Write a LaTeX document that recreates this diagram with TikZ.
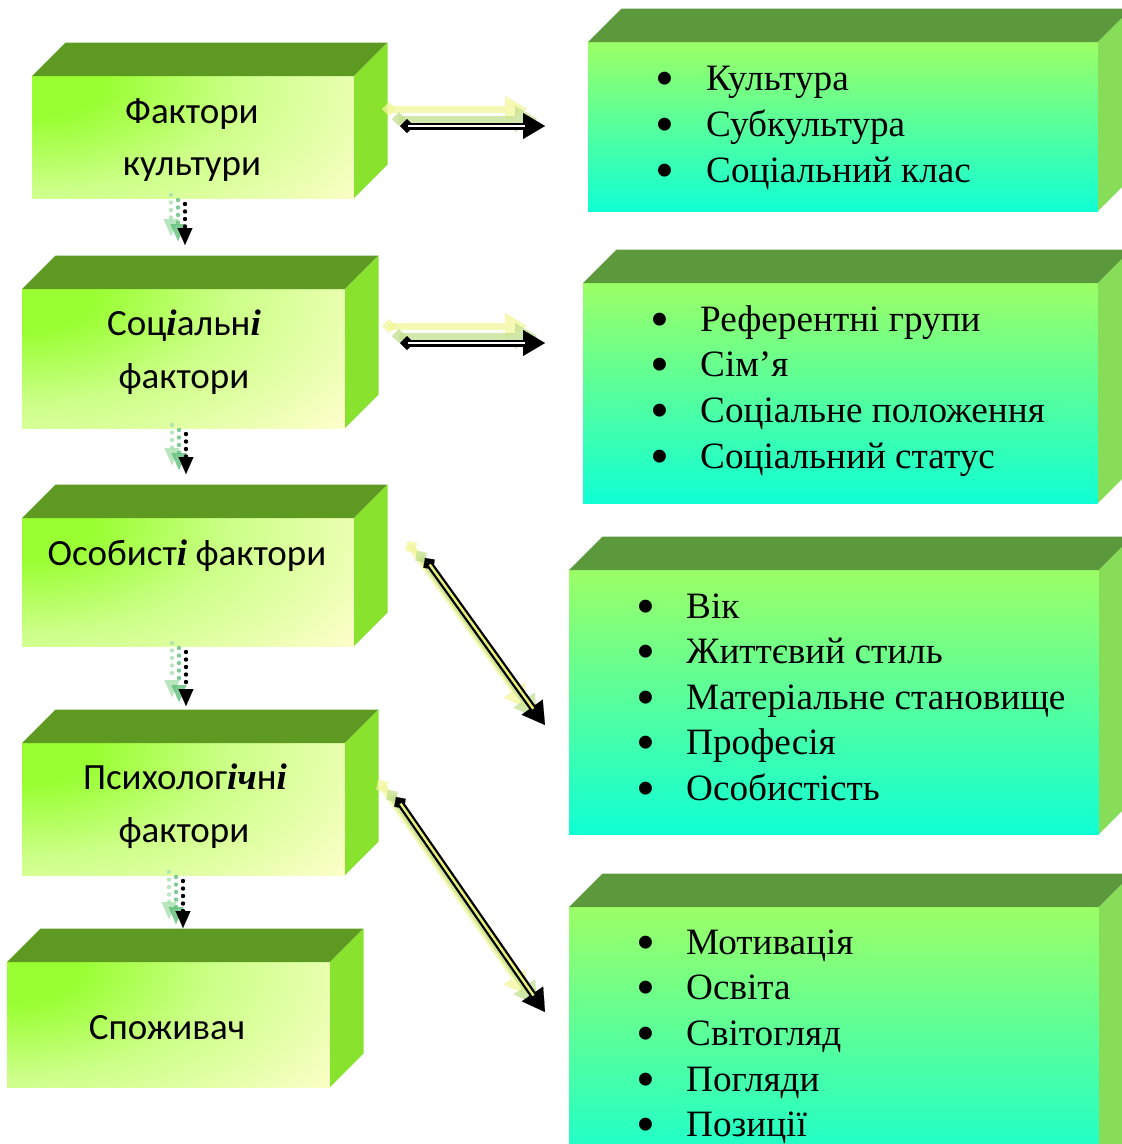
\documentclass[tikz,border=0pt]{standalone}
\usepackage{fontspec}
\setmainfont{Liberation Serif}
\newfontfamily\boxfont{Carlito}
\usetikzlibrary{arrows.meta,calc}

\definecolor{topL}{HTML}{5E9A22}
\definecolor{sideL}{HTML}{88E22E}
\definecolor{glowA}{HTML}{99FF33}
\definecolor{glowM}{HTML}{CCFF88}
\definecolor{glowB}{HTML}{FFFFCC}
\definecolor{topR}{HTML}{5C983C}
\definecolor{sideR}{HTML}{88DD58}
\definecolor{faceTop}{HTML}{9CFF66}
\definecolor{faceMid}{HTML}{72FF96}
\definecolor{faceBot}{HTML}{10FFD4}
\definecolor{paleY}{HTML}{F2F79A}
\definecolor{paleG}{HTML}{C4E090}
\definecolor{dotG1}{HTML}{A8E0B0}
\definecolor{dotG2}{HTML}{5FBF7A}
\definecolor{innerY}{HTML}{E4EE78}

\pgfdeclareradialshading{cornerglow}{\pgfpoint{0bp}{0bp}}{color(0bp)=(glowA); color(3bp)=(glowA); color(9bp)=(glowM); color(18bp)=(glowB); color(50bp)=(glowB)}

\newcommand\serbi[1]{{\rmfamily\bfseries\itshape #1}}
\newcommand\bul{\smash{\raisebox{-6pt}{\fontsize{54}{54}\selectfont •}}}

% top and right faces of a 3D block whose front face is node #1
\newcommand\blocksides[4]{%
  \fill[#2] (#1.north west) -- ++(#4,-#4) -- ($(#1.north east)+(#4,-#4)$) -- (#1.north east) -- cycle;
  \fill[#3] (#1.north east) -- ++(#4,-#4) -- ($(#1.south east)+(#4,-#4)$) -- (#1.south east) -- cycle;}

% double-outlined arrow with two pale echoes
\newcommand\echoarrow[3]{%
  \draw[echo, paleY, opacity=.75] ($(#1)+(-18,-17)$) -- ($(#2)+(-18,-17)$);
  \draw[echo, paleG, opacity=.75] ($(#1)+(-8,-7)$) -- ($(#2)+(-8,-7)$);
  \draw[mainarrow] (#1) -- (#2);
  \draw[line width=2.4pt, #3, shorten <=8pt, shorten >=20pt] (#1) -- (#2);}

% dotted arrow with two green echoes
\newcommand\dotarrow[2]{%
  \draw[dotted arrow, dotG1, opacity=.8] ($(#1)+(-14,-9)$) -- ($(#2)+(-14,-9)$);
  \draw[dotted arrow, dotG2, opacity=.8] ($(#1)+(-7,-4)$) -- ($(#2)+(-7,-4)$);
  \draw[dotted arrow, black] (#1) -- (#2);}

\tikzset{
  leftface/.style={inner sep=0pt, outer sep=0pt,
    path picture={\shade[shading=cornerglow] ($(path picture bounding box.north west)+(6pt,-6pt)$) ellipse [x radius=560pt, y radius=300pt];}},
  rightface/.style={inner sep=0pt, outer sep=0pt, top color=faceTop, middle color=faceMid, bottom color=faceBot},
  ltext/.style={font=\boxfont\fontsize{37}{44}\selectfont, inner sep=0pt, anchor=base},
  litem/.style={font=\fontsize{37.2}{45}\selectfont, inner sep=0pt, anchor=base west},
  echo/.style={line width=7pt, arrows={Diamond[length=14pt,width=14pt,line width=0.1pt]-Triangle[length=22pt,width=26pt,line width=0.1pt]}},
  mainarrow/.style={echo, black},
  dotted arrow/.style={line width=4.4pt, line cap=round, dash pattern=on 0pt off 7.5pt,
    -{Triangle[length=17pt,width=15pt,line width=0.1pt]}},
}

\begin{document}
\begin{tikzpicture}[x=1pt,y=-1pt]
\useasboundingbox (0,0) rectangle (1122,1144);
\fill[white] (0,0) rectangle (1122,1144);
\clip (0,0) rectangle (1122,1144);

% ---------- left column of blocks ----------
\node[leftface, minimum width=322pt, minimum height=122pt] (L1) at (193,137) {};
\blocksides{L1}{topL}{sideL}{33.5}
\node[leftface, minimum width=323pt, minimum height=139pt] (L2) at (183.5,358.5) {};
\blocksides{L2}{topL}{sideL}{33.5}
\node[leftface, minimum width=332pt, minimum height=128pt] (L3) at (188,582) {};
\blocksides{L3}{topL}{sideL}{33.5}
\node[leftface, minimum width=323pt, minimum height=132pt] (L4) at (183.5,809) {};
\blocksides{L4}{topL}{sideL}{33.5}
\node[leftface, minimum width=323pt, minimum height=125pt] (L5) at (168.5,1024.5) {};
\blocksides{L5}{topL}{sideL}{33.5}

\node[ltext] (L1a) at (192,123) {Фактори};
\node[ltext] (L1b) at (192,175) {культури};
\node[ltext] (L2a) at (184,335) {Соц\serbi{і}альн\serbi{і}};
\node[ltext] (L2b) at (184,388) {фактори};
\node[ltext] (L3a) at (187,565) {Особист\serbi{і} фактори};
\node[ltext] (L4a) at (185,789) {Психолог\serbi{іч}н\serbi{і}};
\node[ltext] (L4b) at (184,842) {фактори};
\node[ltext] (L5a) at (167,1039) {Споживач};

% ---------- right column of blocks ----------
\node[rightface, minimum width=510pt, minimum height=169pt] (R1) at (843,126.5) {};
\blocksides{R1}{topR}{sideR}{33.5}
\node[rightface, minimum width=515pt, minimum height=220pt] (R2) at (840.5,393) {};
\blocksides{R2}{topR}{sideR}{33.5}
\node[rightface, minimum width=530pt, minimum height=264pt] (R3) at (834,702) {};
\blocksides{R3}{topR}{sideR}{33.5}
\node[rightface, minimum width=530pt, minimum height=273pt] (R4) at (834,1043.5) {};
\blocksides{R4}{topR}{sideR}{33.5}

\node[litem] (R1a) at (655.5,90)  {\makebox[50.5pt][l]{\bul}Культура};
\node[litem] (R1b) at (655.5,136) {\makebox[50.5pt][l]{\bul}Субкультура};
\node[litem] (R1c) at (655.5,182) {\makebox[50.5pt][l]{\bul}Соціальний клас};

\node[litem] (R2a) at (650.5,331) {\makebox[49.5pt][l]{\bul}Референтні групи};
\node[litem] (R2b) at (650.5,376) {\makebox[49.5pt][l]{\bul}Сім’я};
\node[litem] (R2c) at (650.5,422) {\makebox[49.5pt][l]{\bul}Соціальне положення};
\node[litem] (R2d) at (650.5,468) {\makebox[49.5pt][l]{\bul}Соціальний статус};

\node[litem] (R3a) at (636,618) {\makebox[50pt][l]{\bul}Вік};
\node[litem] (R3b) at (636,663) {\makebox[50pt][l]{\bul}Життєвий стиль};
\node[litem] (R3c) at (636,709) {\makebox[50pt][l]{\bul}Матеріальне становище};
\node[litem] (R3d) at (636,754) {\makebox[50pt][l]{\bul}Професія};
\node[litem] (R3e) at (636,800) {\makebox[50pt][l]{\bul}Особистість};

\node[litem] (R4a) at (636,954)  {\makebox[50pt][l]{\bul}Мотивація};
\node[litem] (R4b) at (636,999)  {\makebox[50pt][l]{\bul}Освіта};
\node[litem] (R4c) at (636,1045) {\makebox[50pt][l]{\bul}Світогляд};
\node[litem] (R4d) at (636,1091) {\makebox[50pt][l]{\bul}Погляди};
\node[litem] (R4e) at (636,1136) {\makebox[50pt][l]{\bul}Позиції};

% ---------- connectors ----------
\coordinate (h1s) at (400,126);  \coordinate (h1e) at (545,126);
\coordinate (h2s) at (400,343);  \coordinate (h2e) at (545,343);
\coordinate (d1s) at (425,558);  \coordinate (d1e) at (545,725);
\coordinate (d2s) at (396,797);  \coordinate (d2e) at (545,1012);
\echoarrow{h1s}{h1e}{white}
\echoarrow{h2s}{h2e}{white}
\echoarrow{d1s}{d1e}{innerY}
\echoarrow{d2s}{d2e}{innerY}

\coordinate (v1s) at (185,204);  \coordinate (v1e) at (185,245);
\coordinate (v2s) at (186,434);  \coordinate (v2e) at (186,474);
\coordinate (v3s) at (186,652);  \coordinate (v3e) at (186,706);
\coordinate (v4s) at (183,881);  \coordinate (v4e) at (183,928);
\dotarrow{v1s}{v1e}
\dotarrow{v2s}{v2e}
\dotarrow{v3s}{v3e}
\dotarrow{v4s}{v4e}
\end{tikzpicture}
\end{document}
